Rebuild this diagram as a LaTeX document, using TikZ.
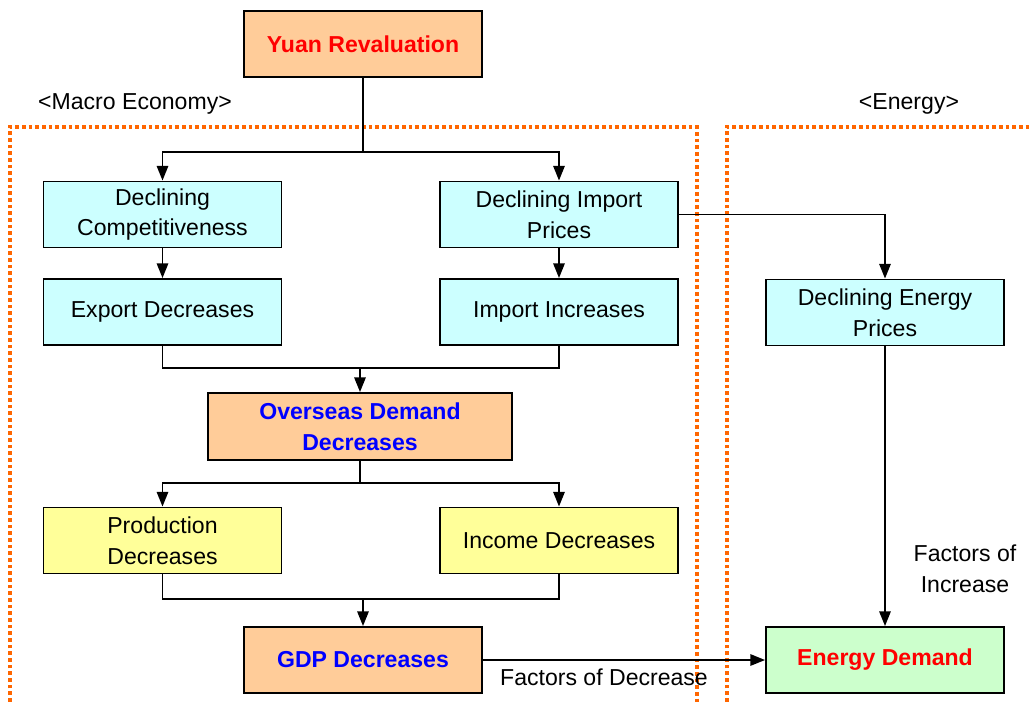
\documentclass[tikz,border=0pt]{standalone}
\usepackage{fontspec}
\setmainfont{Liberation Sans}
\usetikzlibrary{arrows.meta}
\definecolor{peach}{HTML}{FFCC99}
\definecolor{paleCyan}{HTML}{CCFFFF}
\definecolor{paleYellow}{HTML}{FFFF99}
\definecolor{paleGreen}{HTML}{CCFFCC}
\definecolor{zoneOrange}{HTML}{FF6600}
\definecolor{titleRed}{HTML}{FF0000}
\definecolor{titleBlue}{HTML}{0000FF}
\begin{document}
\begin{tikzpicture}[x=0.75pt,y=-0.75pt,
  every node/.style={font=\fontsize{17.3pt}{23pt}\selectfont},
  box/.style={draw=black,line width=1.4pt,align=center,inner sep=0pt,
    minimum width=178.5pt,minimum height=49.5pt},
  keybox/.style={box,fill=peach,font=\fontsize{17.3pt}{23pt}\selectfont\bfseries},
  cyanbox/.style={box,fill=paleCyan},
  yellowbox/.style={box,fill=paleYellow},
  wire/.style={line width=1.4pt,draw=black},
  arr/.style={wire,-{Triangle[length=11pt,width=8.5pt]}},
  zone/.style={draw=zoneOrange,line width=2.7pt,dash pattern=on 2.7pt off 2.3pt}
]
\useasboundingbox (0,0) rectangle (1029,704);
\clip (0,0) rectangle (1029,704);

% dotted zone outlines
\draw[zone] (10,715) -- (10,127) -- (697,127) -- (697,715);
\draw[zone] (727,715) -- (727,127) -- (1040,127);
\node (lblMacro) at (135,104) {<Macro Economy>};
\node (lblEnergy) at (909,104) {<Energy>};

% boxes
\node[keybox,text=titleRed] (yuan) at (363,44) {Yuan Revaluation};
\node[cyanbox] (dc) at (162.5,214.5) {Declining\\Competitiveness};
\node[cyanbox] (dip) at (559,214.5) {Declining Import\\Prices};
\node[cyanbox] (ed) at (162.5,312) {Export Decreases};
\node[cyanbox] (ii) at (559,312) {Import Increases};
\node[keybox,text=titleBlue,minimum width=228pt,minimum height=50.25pt] (od) at (360,426.5) {Overseas Demand\\Decreases};
\node[yellowbox] (pd) at (162.5,540.5) {Production\\Decreases};
\node[yellowbox] (incd) at (559,540.5) {Income Decreases};
\node[keybox,text=titleBlue] (gdp) at (363,660) {GDP Decreases};
\node[cyanbox] (dep) at (885,312.5) {Declining Energy\\Prices};
\node[box,fill=paleGreen,text=titleRed,font=\fontsize{17.3pt}{23pt}\selectfont\bfseries] (endm) at (885,660) {Energy Demand};

% junction points
\coordinate (j1) at (363,152);
\coordinate (j2) at (360,368);
\coordinate (j3) at (360,483);
\coordinate (j4) at (363,599);

% connectors
\draw[wire] (yuan.south) -- (j1);
\draw[arr] (j1) -| (dc.north);
\draw[arr] (j1) -| (dip.north);
\draw[arr] (dc.south) -- (ed.north);
\draw[arr] (dip.south) -- (ii.north);
\draw[wire] (ed.south) -- (ed.south |- j2) -- (ii.south |- j2) -- (ii.south);
\draw[arr] (j2) -- (od.north);
\draw[wire] (od.south) -- (j3);
\draw[arr] (j3) -| (pd.north);
\draw[arr] (j3) -| (incd.north);
\draw[wire] (pd.south) -- (pd.south |- j4) -- (incd.south |- j4) -- (incd.south);
\draw[arr] (j4) -- (gdp.north);
\draw[arr] (dip.east) -| (dep.north);
\draw[arr] (dep.south) -- (endm.north);
\draw[arr] (gdp.east) -- (endm.west);

% connector labels
\node[align=center] (lblInc) at (965,569) {Factors of\\Increase};
\node (lblDec) at (604,677) {Factors of Decrease};
\end{tikzpicture}
\end{document}
